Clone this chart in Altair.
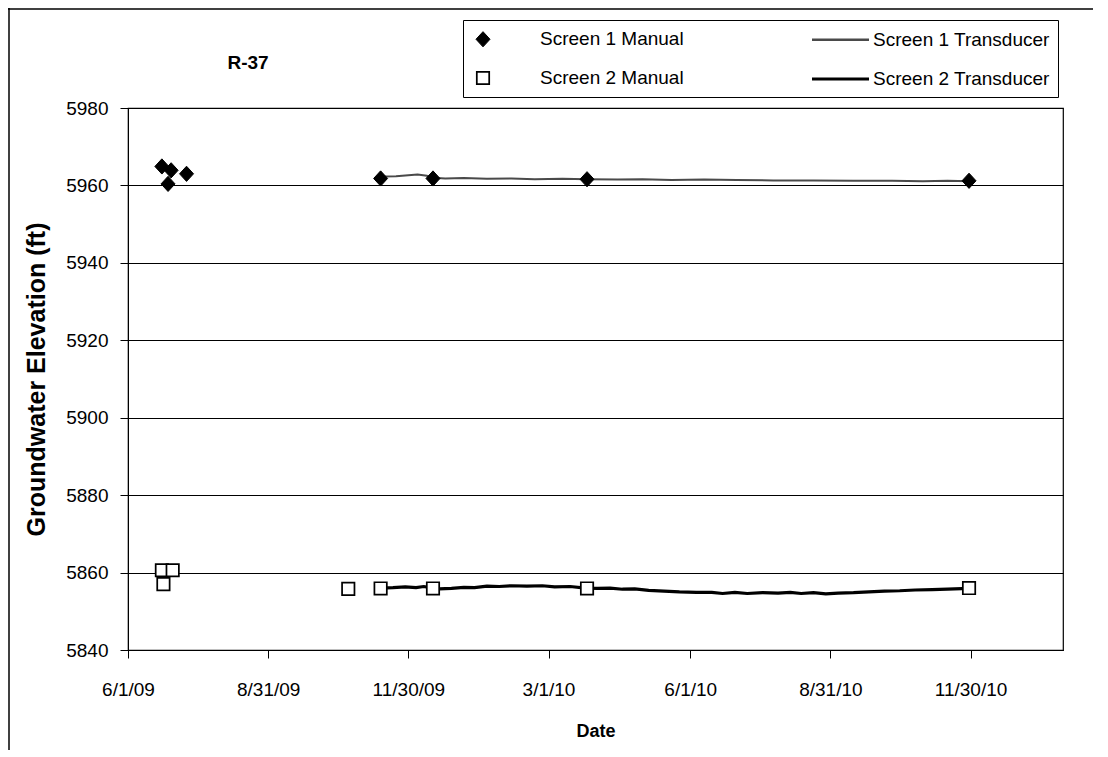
import altair as alt
import pandas as pd

# ---------------- data ----------------
s1_manual_dates = ["2009-06-23", "2009-06-27", "2009-06-29", "2009-07-09",
                   "2009-11-12", "2009-12-16", "2010-03-26", "2010-11-29"]
s1_manual_vals = [5964.9, 5960.4, 5963.9, 5963.0, 5961.8, 5961.8, 5961.6, 5961.2]

s2_manual_dates = ["2009-06-23", "2009-06-24", "2009-06-30", "2009-10-22",
                   "2009-11-12", "2009-12-16", "2010-03-26", "2010-11-29"]
s2_manual_vals = [5860.6, 5857.0, 5860.6, 5855.8, 5855.9, 5855.9, 5855.9, 5856.0]

s1_trans_dates = ["2009-11-12", "2009-11-14", "2009-11-22", "2009-11-30", "2009-12-06",
                  "2009-12-12", "2009-12-16", "2009-12-24", "2010-01-05", "2010-01-20",
                  "2010-02-05", "2010-02-20", "2010-03-10", "2010-03-26", "2010-04-15",
                  "2010-05-01", "2010-05-20", "2010-06-10", "2010-07-01", "2010-07-25",
                  "2010-08-20", "2010-09-15", "2010-10-10", "2010-10-30", "2010-11-15",
                  "2010-11-29"]
s1_trans_vals = [5962.0, 5962.3, 5962.4, 5962.6, 5962.8,
                 5962.5, 5962.0, 5961.8, 5961.9, 5961.7,
                 5961.8, 5961.6, 5961.7, 5961.6, 5961.5,
                 5961.6, 5961.4, 5961.5, 5961.4, 5961.3,
                 5961.3, 5961.2, 5961.2, 5961.1, 5961.2,
                 5961.1]

s2_trans_dates = ["2009-11-12", "2009-11-20", "2009-11-28", "2009-12-05", "2009-12-10",
                  "2009-12-16", "2009-12-20", "2009-12-28", "2010-01-05", "2010-01-12",
                  "2010-01-20", "2010-01-28", "2010-02-05", "2010-02-15", "2010-02-25",
                  "2010-03-05", "2010-03-15", "2010-03-25", "2010-04-02", "2010-04-10",
                  "2010-04-18", "2010-04-26", "2010-05-05", "2010-05-15", "2010-05-25",
                  "2010-06-05", "2010-06-15", "2010-06-22", "2010-06-30", "2010-07-08",
                  "2010-07-18", "2010-07-28", "2010-08-05", "2010-08-12", "2010-08-20",
                  "2010-08-28", "2010-09-05", "2010-09-15", "2010-09-25", "2010-10-05",
                  "2010-10-15", "2010-10-25", "2010-11-05", "2010-11-15", "2010-11-29"]
s2_trans_vals = [5856.0, 5856.1, 5856.3, 5856.1, 5856.4,
                 5856.0, 5855.8, 5855.9, 5856.2, 5856.1,
                 5856.5, 5856.4, 5856.6, 5856.5, 5856.6,
                 5856.3, 5856.4, 5856.0, 5855.9, 5856.0,
                 5855.7, 5855.8, 5855.4, 5855.2, 5855.0,
                 5854.9, 5854.9, 5854.6, 5854.9, 5854.6,
                 5854.8, 5854.7, 5854.9, 5854.6, 5854.8,
                 5854.5, 5854.7, 5854.8, 5855.0, 5855.2,
                 5855.3, 5855.5, 5855.6, 5855.7, 5855.9]

# legend order (column-major: col 1 = manual, col 2 = transducer)
series_names = ["Screen 1 Manual", "Screen 2 Manual", "Screen 1 Transducer", "Screen 2 Transducer"]
y_ticks = [5840, 5860, 5880, 5900, 5920, 5940, 5960, 5980]
x_tick_dates = [(2009, 6, 1), (2009, 8, 31), (2009, 11, 30), (2010, 3, 1),
                (2010, 6, 1), (2010, 8, 31), (2010, 11, 30)]
x_domain = [(2009, 6, 1), (2011, 1, 29)]

# ---------------- tables ----------------
manual = pd.concat([
    pd.DataFrame({"date": s1_manual_dates, "value": s1_manual_vals, "series": series_names[0]}),
    pd.DataFrame({"date": s2_manual_dates, "value": s2_manual_vals, "series": series_names[1]}),
])
t1 = pd.DataFrame({"date": s1_trans_dates, "value": s1_trans_vals})
t2 = pd.DataFrame({"date": s2_trans_dates, "value": s2_trans_vals})

FONT = "Liberation Sans"
W, H = 935, 542
SYM = 400  # common symbol size (sqrt = 20 px, path unit = 10 px)

# symbol paths (unit box scaled by sqrt(size)/2)
DIAMOND = "M0,-0.76L0.7,0L0,0.76L-0.7,0Z"
SQUARE = "M-0.62,-0.62H0.62V0.62H-0.62Z"
LINE = "M-0.4,0H5.3"


def dt(t):
    return alt.DateTime(year=t[0], month=t[1], date=t[2], utc=True)


x_enc = alt.X(
    "date:T",
    scale=alt.Scale(type="utc", domain=[dt(x_domain[0]), dt(x_domain[1])]),
    axis=alt.Axis(
        title="Date", values=[dt(t) for t in x_tick_dates],
        labelExpr="utcFormat(datum.value, '%-m/%-d/%y')",
        grid=False, labelFontSize=19, titleFontSize=18,
        titleFontWeight="bold", labelPadding=22, titlePadding=23, tickSize=8,
        labelFlush=False,
    ),
)
y_enc = alt.Y(
    "value:Q",
    scale=alt.Scale(domain=[5840, 5980], nice=False, zero=False),
    axis=alt.Axis(
        title="Groundwater Elevation (ft)", values=y_ticks, format="d", grid=True,
        gridColor="black", gridWidth=1, labelFontSize=19,
        titleFontSize=25, titleFontWeight="bold", labelPadding=12, titlePadding=16,
        tickSize=8,
    ),
)

line1 = alt.Chart(t1).mark_line(color="#4a4a4a", strokeWidth=2).encode(x=x_enc, y=y_enc)
line2 = alt.Chart(t2).mark_line(color="black", strokeWidth=3.2).encode(x=x_enc, y=y_enc)

legend = alt.Legend(
    title=None, orient="none", legendX=335, legendY=-88, columns=2,
    columnPadding=120, rowPadding=17, strokeColor="black", fillColor="white",
    padding=8, labelFontSize=19, labelFont=FONT, labelOffset=45, labelLimit=0,
    symbolSize=SYM,
)
points = alt.Chart(manual).mark_point(opacity=1, fillOpacity=1, size=SYM).encode(
    x=x_enc, y=y_enc,
    shape=alt.Shape("series:N", scale=alt.Scale(domain=series_names,
                    range=[DIAMOND, SQUARE, LINE, LINE]), legend=legend),
    fill=alt.Fill("series:N", scale=alt.Scale(domain=series_names,
                  range=["black", "white", "transparent", "transparent"]), legend=legend),
    stroke=alt.Stroke("series:N", scale=alt.Scale(domain=series_names,
                      range=["black", "black", "#4a4a4a", "black"]), legend=legend),
    strokeWidth=alt.StrokeWidth("series:N", scale=alt.Scale(domain=series_names,
                                range=[1, 3.2]), legend=legend),
)

title_text = alt.Chart(pd.DataFrame({"t": ["R-37"]})).mark_text(
    font=FONT, fontSize=19, fontWeight="bold", align="center", baseline="middle"
).encode(text="t:N", x=alt.value(120), y=alt.value(-45))

frame = alt.Chart(pd.DataFrame({"k": [0]})).mark_rule(color="black", strokeWidth=1.5).encode(
    x=alt.value(-119), y=alt.value(-100), y2=alt.value(H + 110)
)
frame_top = alt.Chart(pd.DataFrame({"k": [0]})).mark_rule(color="black", strokeWidth=1.5).encode(
    x=alt.value(-120), x2=alt.value(W + 40), y=alt.value(-99)
)

chart = alt.layer(frame, frame_top, line1, line2, points, title_text).properties(
    width=W, height=H,
    autosize=alt.AutoSizeParams(type="none"),
    padding={"left": 120, "top": 100, "right": 30, "bottom": 100},
).configure(font=FONT).configure_view(stroke="black", strokeWidth=1.2).configure_axis(
    domainColor="black", tickColor="black", labelColor="black", titleColor="black",
    titleFont=FONT, labelFont=FONT,
)

chart.save("out.html", embed_options={"renderer": "svg", "actions": False})
